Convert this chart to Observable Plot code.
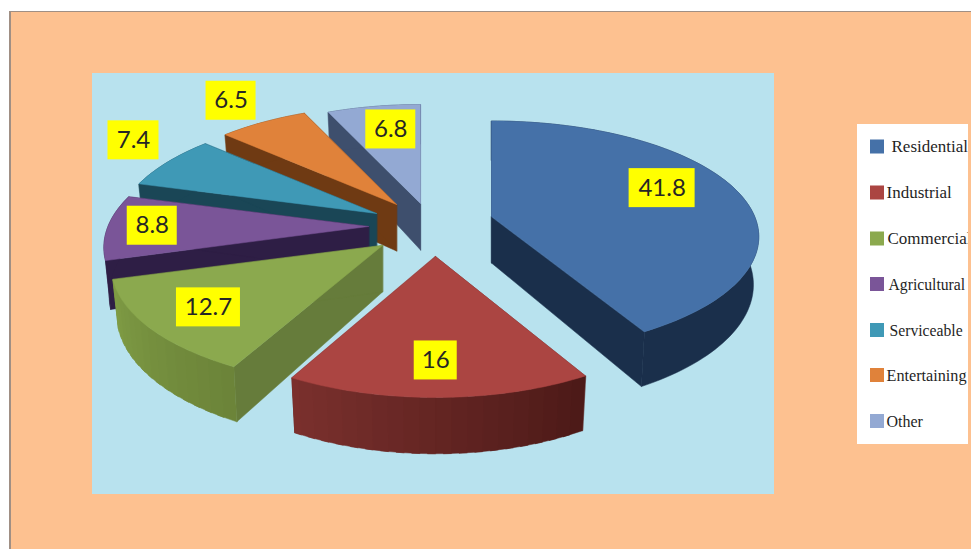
<!DOCTYPE html>
<html>
<head>
<meta charset="utf-8">
<script src="https://cdn.jsdelivr.net/npm/d3@7"></script>
<script src="https://cdn.jsdelivr.net/npm/@observablehq/plot@0.6"></script>
<style>
  html, body { margin: 0; padding: 0; width: 971px; height: 549px; overflow: hidden; background: #fff; }
  #sheet { position: absolute; left: 9px; top: 11px; right: 0; bottom: 0; background: #fdc190;
           border-left: 2px solid #a08f84; border-top: 1px solid #a08f84; }
  #chart { position: absolute; left: 0; top: 0; }
</style>
</head>
<body>
<div id="sheet"></div>
<div id="chart"></div>
<script>
// Land use shares, in drawing order around the pie (clockwise from north)
const categories = ["Residential", "Industrial", "Commercial", "Agricultural", "Serviceable", "Entertaining", "Other"];
const shares = [41.8, 16, 12.7, 8.8, 7.4, 6.5, 6.8];

// Slice colours
const topColors = ["#4571a8", "#ab4542", "#8ba94e", "#7a5598", "#3f99b6", "#e0823a", "#93a9d3"];
const sideColors = ["#1a2f4b", "#6e2a28", "#667c3b", "#2e1e45", "#1a4656", "#6f3a13", "#3e4f6d"];
const rimStart = ["#1a2f4b", "#4d1a18", "#6c8439", "#2e1e45", "#1a4656", "#6f3a13", "#3e4f6d"];
const rimEnd = ["#1a2f4b", "#7c312e", "#809d45", "#2e1e45", "#1a4656", "#6f3a13", "#3e4f6d"];

// Exploded slice tips, per-slice stretch, and the nudge of each value label from its mid-arc point
const tipX = [491, 435, 382, 368, 376, 396, 420];
const tipY = [216, 256, 245, 226, 213, 204, 203];
const stretchX = [1.02, 1, 1.035, 1.01, 1, 1, 1];
const stretchY = [0.965, 1, 1, 1, 1, 1, 1];
const labelNudgeX = [-73, -3.7, 59, 44.6, -34.5, -32, 17];
const labelNudgeY = [-1, -37, -20.5, -1.5, -21.5, -21.5, 23];
const labelBoxWidths = [66, 43, 64, 50, 51, 50, 50];

// Legend rows
const legendY = [146.5, 192.5, 238.5, 284, 330, 375, 421];
const legendTextX = [891, 886, 887, 888, 889, 886, 886];
const legendFontSizes = [17, 17, 17, 15.7, 15.7, 16.2, 16];

// Tilted, perspective view of the pie; the underside recedes slightly
const radiusX = 258, radiusY = 116.3, perspective = 0.175, thickness = 46.5, undersideScale = 0.98;
const panel = {x1: 92, x2: 774, y1: 73, y2: 494, fill: "#b8e2ee"};
const legendBox = {x1: 857, x2: 968, y1: 124, y2: 444};

const rad = Math.PI / 180;
function project(i, deg, r, lower) {
  const s = Math.sin(deg * rad), c = Math.cos(deg * rad);
  const w = 1 + perspective * r * c;
  const spread = lower ? undersideScale : 1;
  return {
    x: tipX[i] + spread * radiusX * stretchX[i] * r * s / w,
    y: tipY[i] - radiusY * stretchY[i] * r * c / w + (lower ? thickness / w : 0)
  };
}

const total = d3.sum(shares);
let running = 0;
const slices = shares.map((v, i) => {
  const a0 = running / total * 360;
  running += v;
  return {i, a0, a1: running / total * 360};
});

// Polygons are listed back to front: rear slices first, walls under each top face
const rows = [];
let polyId = 0;
function addPolygon(pts, color) {
  const id = polyId++;
  for (const p of pts) rows.push({id, x: p.x, y: p.y, color});
}
for (const i of [6, 5, 4, 3, 2, 1, 0]) {
  const {a0, a1} = slices[i];
  for (const a of [a0, a1]) {
    addPolygon([project(i, a, 0), project(i, a, 1), project(i, a, 1, true), project(i, a, 0, true)], sideColors[i]);
  }
  const steps = Math.ceil((a1 - a0) / 1.5);
  const angle = k => a0 + (a1 - a0) * k / steps;
  const arc = lower => d3.range(steps + 1).map(k => project(i, angle(k), 1, lower));
  if (rimStart[i] === rimEnd[i]) {
    // A plain rim is one polygon
    addPolygon([...arc(false), ...arc(true).reverse()], rimStart[i]);
  } else {
    // A shaded rim is split into bands, overlapping so that no seams show
    const shade = d3.interpolateRgb(rimStart[i], rimEnd[i]);
    for (let k = 0; k < steps; k += 2) {
      const next = Math.min(k + 3, steps);
      addPolygon([
        project(i, angle(k), 1), project(i, angle(next), 1),
        project(i, angle(next), 1, true), project(i, angle(k), 1, true)
      ], shade(k / steps));
    }
  }
  addPolygon([project(i, a0, 0), ...arc(false)], topColors[i]);
}

// Value labels sit on yellow boxes
const labels = slices.map(({i, a0, a1}) => {
  const p = project(i, (a0 + a1) / 2, 1);
  const x = p.x + labelNudgeX[i], y = p.y + labelNudgeY[i];
  return {
    text: String(shares[i]), x, y,
    x1: x - labelBoxWidths[i] / 2, x2: x + labelBoxWidths[i] / 2,
    y1: y - 19.5, y2: y + 19.5
  };
});

const legend = categories.map((name, i) => ({
  name, color: topColors[i], y: legendY[i],
  x1: 870, x2: 884, y1: legendY[i] - 7, y2: legendY[i] + 7,
  tx: legendTextX[i], size: legendFontSizes[i]
}));

const chart = Plot.plot({
  width: 968,
  height: 549,
  margin: 0,
  style: {background: "transparent"},
  x: {domain: [0, 968], range: [0, 968], axis: null},
  y: {domain: [0, 549], range: [0, 549], axis: null},
  marks: [
    Plot.rect([panel], {x1: "x1", x2: "x2", y1: "y1", y2: "y2", fill: panel.fill}),
    Plot.line(rows, {
      x: "x", y: "y", z: "id",
      fill: {value: "color", scale: null},
      stroke: {value: "color", scale: null},
      strokeWidth: 0.5,
      curve: "linear-closed"
    }),
    Plot.rect(labels, {x1: "x1", x2: "x2", y1: "y1", y2: "y2", fill: "#ffff00"}),
    Plot.text(labels, {x: "x", y: "y", text: "text", fontFamily: "Lato", fontSize: 24, fill: "#262626"}),
    Plot.rect([legendBox], {x1: "x1", x2: "x2", y1: "y1", y2: "y2", fill: "#ffffff"}),
    Plot.rect(legend, {x1: "x1", x2: "x2", y1: "y1", y2: "y2", fill: {value: "color", scale: null}}),
    Plot.text(legend, {
      x: "tx", y: "y", text: "name", textAnchor: "start",
      fontFamily: "Liberation Serif", fontSize: "size", fill: "#1f1f1f"
    })
  ]
});
document.getElementById("chart").append(chart);
</script>
</body>
</html>
